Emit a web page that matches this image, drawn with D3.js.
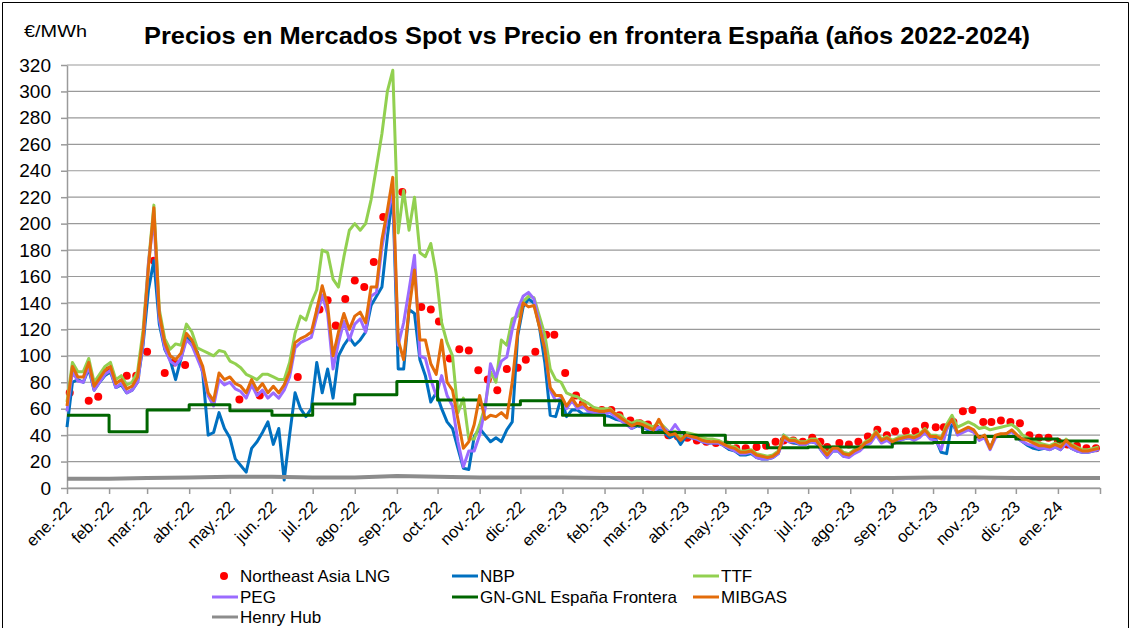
<!DOCTYPE html>
<html>
<head>
<meta charset="utf-8">
<script src="https://cdn.jsdelivr.net/npm/d3@7"></script>
<style>
  body { margin: 0; background: #fff; }
  text { font-family: "Liberation Sans", Arial, sans-serif; fill: #000; }
</style>
</head>
<body>
<div id="main"></div>
<script>
const sampleStep = 4;
const sampleCount = 191;

const mibgas = [
  62, 92, 84, 84, 95, 77, 83, 89, 92, 79,
  82, 75, 77, 84, 114, 167, 212, 132, 110, 100,
  97, 102, 117, 112, 102, 92, 72, 66, 87, 82,
  84, 79, 77, 72, 82, 74, 79, 72, 77, 72,
  78, 88, 110, 113, 115, 118, 135, 153, 138, 100,
  118, 132, 120, 130, 133, 125, 152, 152, 188, 210,
  235, 112, 97, 135, 165, 112, 112, 94, 86, 112,
  80, 74, 52, 30, 35, 48, 70, 52, 55, 54,
  57, 53, 80, 118, 140, 137, 138, 122, 105, 76,
  70, 70, 62, 68, 62, 64, 60, 59, 58, 58,
  59, 56, 53, 50, 47, 49, 48, 46, 44, 52,
  44, 40, 41, 36, 40, 39, 38, 36, 35, 35,
  35, 33, 31, 30, 27, 27, 28, 25, 24, 23,
  24, 27, 39, 36, 36, 34, 34, 36, 36, 30,
  25, 30, 30, 26, 25, 28, 30, 34, 36, 42,
  36, 38, 35, 37, 38, 39, 38, 40, 44, 39,
  39, 37, 46, 52, 42, 44, 46, 44, 38, 40,
  30, 40, 41, 41, 44, 40, 37, 36, 34, 32,
  32, 31, 33, 31, 36, 32, 30, 28, 28, 29, 30
];

const peg = [
  58, 88, 81, 80, 92, 74, 80, 86, 89, 76,
  79, 72, 74, 80, 110, 170, 205, 128, 106, 96,
  93, 98, 112, 108, 98, 88, 70, 62, 82, 78,
  80, 75, 73, 68, 78, 70, 74, 68, 72, 68,
  74, 84, 106, 110, 112, 114, 130, 146, 132, 90,
  110, 126, 112, 124, 128, 118, 145, 148, 182, 205,
  226, 108, 125, 150, 176, 100, 98, 82, 70, 85,
  70, 62, 35, 16, 28, 28, 40, 60, 94, 84,
  96, 99, 120, 135, 145, 148, 143, 125, 106, 74,
  66, 68, 60, 66, 60, 62, 58, 57, 56, 56,
  57, 54, 51, 48, 45, 48, 46, 45, 43, 46,
  45, 42, 48, 42, 40, 38, 37, 35, 34, 34,
  34, 32, 30, 28, 26, 26, 27, 23, 22, 22,
  23, 26, 37, 35, 35, 33, 33, 35, 34, 28,
  23, 28, 28, 24, 23, 26, 28, 32, 34, 40,
  34, 36, 33, 35, 37, 38, 36, 38, 42, 37,
  36, 29, 44, 52, 40, 42, 44, 42, 36, 38,
  29, 38, 40, 40, 43, 38, 35, 33, 32, 30,
  30, 29, 31, 29, 34, 30, 28, 27, 27, 28, 29
];

const ttf = [
  65, 95, 88, 88, 98, 80, 86, 92, 95, 82,
  85, 78, 80, 88, 119, 170, 214, 135, 113, 105,
  109, 108, 124, 118, 106, 104, 102, 100, 104, 103,
  96, 94, 91, 86, 84, 82, 86, 86, 84, 82,
  82, 95, 117, 130, 127, 140, 150, 180, 178, 158,
  152, 175, 195, 200, 195, 200, 218, 243, 268, 300,
  316, 193, 225, 195, 220, 178, 175, 185, 162, 125,
  110, 100, 57, 68, 37, 37, 48, 62, 88, 80,
  112, 108, 128, 130, 141, 145, 144, 130, 116, 90,
  82, 80, 72, 70, 69, 66, 64, 61, 60, 60,
  60, 56, 55, 51, 49, 51, 50, 48, 46, 50,
  46, 42, 43, 39, 42, 41, 40, 38, 37, 37,
  36, 34, 32, 31, 28, 28, 29, 26, 25, 24,
  25, 28, 40, 37, 37, 35, 35, 37, 37, 31,
  26, 31, 31, 27, 26, 29, 31, 35, 37, 43,
  37, 39, 36, 38, 39, 40, 39, 41, 45, 40,
  40, 38, 48, 55, 46, 48, 50, 48, 45, 46,
  44, 45, 46, 47, 48, 45, 40, 38, 36, 34,
  33, 32, 34, 32, 37, 33, 31, 29, 29, 30, 31
];

const nbp = [
  46, 80, 82, 80, 90, 74, 80, 85, 88, 76,
  78, 72, 74, 80, 108, 150, 172, 124, 105, 97,
  82, 98, 115, 108, 103, 87, 40, 42, 57, 45,
  38, 22, 17, 12, 30, 35, 42, 50, 33, 45,
  6, 40, 72, 60, 54, 60, 95, 72, 90, 68,
  100, 108, 114, 108, 112, 118, 138, 145, 152, 190,
  222, 90, 90, 135, 132, 97, 85, 65, 72, 60,
  50, 45, 30, 15, 14, 39, 45, 40, 35, 38,
  35, 44, 50, 115, 137, 143, 140, 122, 95, 55,
  54, 68, 54, 59, 59, 56, 56, 56, 56, 55,
  54, 52, 51, 49, 45, 47, 46, 44, 42, 45,
  42, 38, 40, 33, 39, 38, 37, 35, 34, 34,
  34, 32, 29, 28, 25, 25, 26, 23, 22, 22,
  23, 26, 40, 35, 34, 33, 33, 35, 34, 28,
  23, 28, 28, 24, 24, 27, 29, 33, 35, 41,
  35, 37, 34, 36, 37, 38, 37, 39, 43, 38,
  37, 27, 26, 50, 41, 43, 45, 43, 37, 39,
  30, 39, 40, 41, 43, 38, 35, 32, 30, 29,
  30, 29, 31, 29, 34, 30, 28, 27, 27, 28, 29
];

// monthly values (first of month, Jan 2022 .. Jan 2024)
const frontera = [55, 42.5, 59, 63, 58.5, 55, 63.5, 70.5, 80.5, 66.5, 63, 66,
                  55, 47.5, 42, 40, 34.5, 30.5, 31, 31, 34, 34.5, 39, 37, 35.5];
const henryHub = [7, 7, 7.5, 8, 8.5, 8.5, 8, 8, 9, 8.5, 8, 8,
                  8, 7.5, 7.5, 7.5, 7.5, 7.5, 7.5, 7.5, 7.5, 8, 8, 7.5, 7.5, 7.5];

const lngDates = [
  '2022-01-03', '2022-01-17', '2022-01-24', '2022-02-01', '2022-02-14', '2022-02-21',
  '2022-03-01', '2022-03-06', '2022-03-14', '2022-03-21', '2022-03-29', '2022-05-08',
  '2022-05-23', '2022-06-20', '2022-07-06', '2022-07-12', '2022-07-18', '2022-07-25',
  '2022-08-01', '2022-08-08', '2022-08-15', '2022-08-22', '2022-09-05', '2022-09-19',
  '2022-09-26', '2022-10-02', '2022-10-10', '2022-10-17', '2022-10-24', '2022-10-31',
  '2022-11-07', '2022-11-14', '2022-11-21', '2022-11-29', '2022-12-05', '2022-12-12',
  '2022-12-20', '2022-12-26', '2023-01-03', '2023-01-11', '2023-01-16', '2023-01-23',
  '2023-01-30', '2023-02-06', '2023-02-12', '2023-02-20', '2023-02-27', '2023-03-05',
  '2023-03-11', '2023-03-20', '2023-03-27', '2023-04-03', '2023-04-10', '2023-04-17',
  '2023-04-24', '2023-05-02', '2023-05-09', '2023-05-16', '2023-05-24', '2023-05-31',
  '2023-06-07', '2023-06-13', '2023-06-20', '2023-06-27', '2023-07-04', '2023-07-10',
  '2023-07-15', '2023-07-24', '2023-07-31', '2023-08-07', '2023-08-14', '2023-08-21',
  '2023-08-28', '2023-09-03', '2023-09-11', '2023-09-18', '2023-09-25', '2023-10-03',
  '2023-10-09', '2023-10-16', '2023-10-23', '2023-10-30', '2023-11-07', '2023-11-13',
  '2023-11-20', '2023-11-27', '2023-12-04', '2023-12-11', '2023-12-18', '2023-12-25',
  '2024-01-01', '2024-01-08', '2024-01-15', '2024-01-22', '2024-01-29'
];
const lngValues = [
  72, 66, 69, 89, 85, 85,
  103, 172, 87, 95, 93, 67,
  70, 84, 135, 142, 123, 143,
  157, 152, 171, 205, 224, 137,
  135, 126, 98, 105, 104, 89,
  82, 74, 90, 91, 97, 103,
  116, 116, 87, 70, 64, 59,
  59, 59, 55, 51, 49, 48,
  45, 40, 39, 38, 36, 35,
  34, 33, 30, 30, 31, 32,
  35, 36, 36, 35, 38, 35,
  31, 34, 33, 35, 39, 44,
  40, 43, 43, 43, 47, 46,
  46, 50, 58, 59, 50, 50,
  51, 50, 49, 40, 38, 38,
  35, 33, 32, 30, 30
];

const yTicks = d3.range(0, 321, 20);
const monthLabels = ['ene.', 'feb.', 'mar.', 'abr.', 'may.', 'jun.', 'jul.', 'ago.', 'sep.', 'oct.', 'nov.', 'dic.'];

const seriesNames = ['Northeast Asia LNG', 'NBP', 'TTF', 'PEG', 'GN-GNL España Frontera', 'MIBGAS', 'Henry Hub'];
const colors = {
  'Northeast Asia LNG': '#ff0000',
  'NBP': '#0070c0',
  'TTF': '#92d050',
  'PEG': '#9b6bff',
  'GN-GNL España Frontera': '#006600',
  'MIBGAS': '#e36c0a',
  'Henry Hub': '#8c8c8c'
};

const width = 1131;
const height = 628;
const margin = { top: 65, right: 31, bottom: 140, left: 67 };
const innerWidth = width - margin.left - margin.right;
const innerHeight = height - margin.top - margin.bottom;

const parseDate = d3.timeParse('%Y-%m-%d');
const start = new Date(2022, 0, 1);
const end = new Date(2024, 1, 1);
const sampleDates = d3.range(sampleCount).map(i => d3.timeDay.offset(start, i * sampleStep));
const months = d3.timeMonth.range(start, d3.timeDay.offset(end, 1));

const svg = d3.select('#main').append('svg')
    .attr('width', width)
    .attr('height', height);

// chart frame (bottom edge falls outside the picture)
svg.append('path')
    .attr('d', `M2.5,${height} V2.5 H${width - 2.5} V${height}`)
    .attr('fill', 'none')
    .attr('stroke', '#000')
    .attr('stroke-width', 1);

const xScale = d3.scaleTime().domain([start, end]).range([0, innerWidth]);
const yScale = d3.scaleLinear().domain([0, 320]).range([innerHeight, 0]);

const g = svg.append('g').attr('transform', `translate(${margin.left},${margin.top})`);

// grid
g.selectAll('.grid').data(yTicks).enter().append('line')
    .attr('class', 'grid')
    .attr('x1', 0).attr('x2', innerWidth)
    .attr('y1', d => yScale(d)).attr('y2', d => yScale(d))
    .attr('stroke', '#9a9a9a')
    .attr('stroke-width', 1.2);

const yAxis = d3.axisLeft(yScale).tickValues(yTicks).tickSize(6).tickPadding(10).tickSizeOuter(0);
const yAxisG = g.append('g').call(yAxis);
yAxisG.selectAll('line, .domain').attr('stroke', '#9a9a9a').attr('stroke-width', 1.5);
yAxisG.selectAll('text').style('font-size', '19px').attr('fill', '#000');

const xAxis = d3.axisBottom(xScale).tickValues(months).tickSize(6).tickSizeOuter(0)
    .tickFormat(d => d < end ? monthLabels[d.getMonth()] + '-' + d3.timeFormat('%y')(d) : '');
const xAxisG = g.append('g').attr('transform', `translate(0,${innerHeight})`).call(xAxis);
xAxisG.selectAll('line, .domain').attr('stroke', '#9a9a9a').attr('stroke-width', 1.5);
xAxisG.selectAll('text')
    .attr('x', 0).attr('y', 0).attr('dy', 0)
    .attr('transform', 'translate(5,20) rotate(-45)')
    .style('text-anchor', 'end')
    .style('font-size', '16.5px');

// series
const lineGen = d3.line()
    .x(d => xScale(d.date))
    .y(d => yScale(d.value));

const toPoints = (dates, values) => values.map((v, i) => ({ date: dates[i], value: v }));

const lngPoints = lngDates.map((d, i) => ({ date: parseDate(d), value: lngValues[i] }));
g.selectAll('.lng').data(lngPoints).enter().append('circle')
    .attr('class', 'lng')
    .attr('cx', d => xScale(d.date))
    .attr('cy', d => yScale(d.value))
    .attr('r', 4)
    .attr('fill', colors['Northeast Asia LNG']);

const drawLine = (points, name, w, curve) => {
  g.append('path')
      .attr('d', lineGen.curve(curve || d3.curveLinear)(points))
      .attr('fill', 'none')
      .attr('stroke', colors[name])
      .attr('stroke-width', w)
      .attr('stroke-linejoin', 'round');
};

drawLine(toPoints(sampleDates, nbp), 'NBP', 3);
drawLine(toPoints(sampleDates, ttf), 'TTF', 3);
drawLine(toPoints(sampleDates, peg), 'PEG', 3);
const fronteraPoints = toPoints(months, frontera);
fronteraPoints.push({ date: sampleDates[sampleCount - 1], value: frontera[frontera.length - 1] });
drawLine(fronteraPoints, 'GN-GNL España Frontera', 3, d3.curveStepAfter);
drawLine(toPoints(sampleDates, mibgas), 'MIBGAS', 3);
drawLine(toPoints(months, henryHub), 'Henry Hub', 4);

// titles
svg.append('text')
    .attr('x', 144).attr('y', 44)
    .attr('textLength', 886)
    .attr('lengthAdjust', 'spacingAndGlyphs')
    .style('font-size', '23px')
    .style('font-weight', 'bold')
    .text('Precios en Mercados Spot vs Precio en frontera España (años 2022-2024)');

svg.append('text')
    .attr('x', 24).attr('y', 37)
    .attr('textLength', 63)
    .attr('lengthAdjust', 'spacingAndGlyphs')
    .style('font-size', '17px')
    .text('€/MWh');

// legend: 3 columns, filled row by row
const legendCols = [212, 452, 693];
const legendRows = [582, 603, 623];
const legend = svg.append('g');
seriesNames.forEach((name, i) => {
  const lx = legendCols[i % 3];
  const ly = legendRows[Math.floor(i / 3)];
  if (name === 'Northeast Asia LNG') {
    legend.append('circle')
        .attr('cx', lx + 12).attr('cy', ly - 6).attr('r', 4)
        .attr('fill', colors[name]);
  } else {
    legend.append('line')
        .attr('x1', lx).attr('x2', lx + 26)
        .attr('y1', ly - 6).attr('y2', ly - 6)
        .attr('stroke', colors[name])
        .attr('stroke-width', 3);
  }
  legend.append('text')
      .attr('x', lx + 28).attr('y', ly)
      .style('font-size', '17px')
      .text(name);
});
</script>
</body>
</html>
